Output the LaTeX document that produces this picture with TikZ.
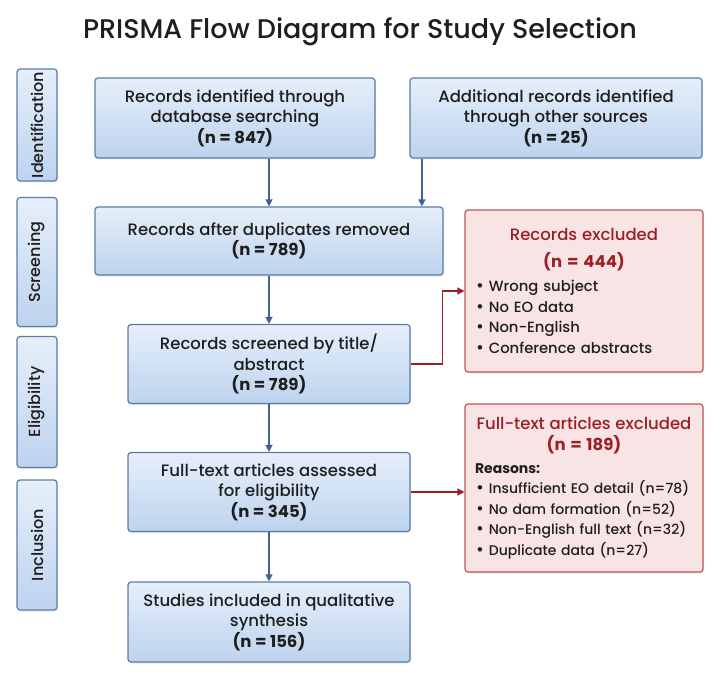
\documentclass[tikz,border=0pt]{standalone}
\usepackage{fontspec}
\setmainfont{Poppins}[UprightFont={* Medium}, BoldFont={* Bold}]
\usepackage{tikz}
\usetikzlibrary{arrows.meta,positioning,shadows,calc}

\definecolor{boxtop}{HTML}{E6EFFA}
\definecolor{boxbot}{HTML}{BDD3EE}
\definecolor{boxline}{HTML}{5A7DA6}
\definecolor{flowblue}{HTML}{41648F}
\definecolor{exfill}{HTML}{F8E4E4}
\definecolor{exline}{HTML}{C05656}
\definecolor{exred}{HTML}{9B1F25}
\definecolor{inktext}{HTML}{1E1E1E}

\tikzset{
  flowbox/.style={draw=boxline, line width=1.2pt, rounded corners=3pt,
    top color=boxtop, bottom color=boxbot, align=center, text=inktext,
    font=\fontsize{16.5}{20.5}\selectfont, inner sep=2pt,
    drop shadow={opacity=0.18, shadow xshift=1pt, shadow yshift=-1.5pt}},
  stagebox/.style={flowbox, rotate=90, minimum height=40pt},
  exbox/.style={draw=exline, line width=1.2pt, rounded corners=3pt,
    fill=exfill, text=inktext, align=left, minimum width=238pt,
    text width=224pt, inner xsep=7pt,
    font=\fontsize{14}{20.5}\selectfont,
    drop shadow={opacity=0.18, shadow xshift=1pt, shadow yshift=-1.5pt}},
  flow/.style={draw=flowblue, line width=1.4pt,
    -{Triangle[length=7pt,width=7pt]}},
  exflow/.style={draw=exred, line width=1.4pt,
    -{Triangle[length=7pt,width=7pt]}}
}
\def\bul{\hspace*{4pt}{\fontsize{17}{10}\selectfont\textbullet}\hspace{5pt}}

\begin{document}
\begin{tikzpicture}[x=1pt, y=-1pt]
\useasboundingbox (0,0) rectangle (725,676);

\node[font=\fontsize{27}{30}\selectfont, text=inktext] (title) at (360,32)
  {PRISMA Flow Diagram for Study Selection};

% stages on the left
\foreach \nm/\y/\h/\lbl in {stIdent/125/112/Identification, stScreen/262/129/Screening,
                            stElig/402/131/Eligibility, stIncl/545/130/Inclusion}
  \node[stagebox, minimum width=\h pt, font=\fontsize{16}{20}\selectfont] (\nm) at (37,\y) {\lbl};

% main flow
\node[flowbox, minimum width=280pt, minimum height=80pt] (dbase) at (235,118)
  {Records identified through\\ database searching\\ \textbf{(n = 847)}};
\node[flowbox, minimum width=292pt, minimum height=80pt] (other) at (556,118)
  {Additional records identified\\ through other sources\\ \textbf{(n = 25)}};
\node[flowbox, minimum width=348pt, minimum height=68pt] (dedup) at (269,241)
  {Records after duplicates removed\\ \textbf{(n = 789)}};
\node[flowbox, minimum width=282pt, minimum height=79pt] (screened) at (269,364)
  {Records screened by title/\\ abstract\\ \textbf{(n = 789)}};
\node[flowbox, minimum width=282pt, minimum height=79pt] (fulltext) at (269,492)
  {Full-text articles assessed\\ for eligibility\\ \textbf{(n = 345)}};
\node[flowbox, minimum width=282pt, minimum height=80pt] (included) at (269,622)
  {Studies included in qualitative\\ synthesis\\ \textbf{(n = 156)}};

% exclusions
\node[exbox, minimum height=162pt, font=\fontsize{14.8}{20.7}\selectfont] (exrec) at (584,291)
  {{\centering\color{exred}\fontsize{16.5}{27}\selectfont Records excluded\\
    \textbf{(n = 444)}\par}
   \vspace{3pt}
   \bul Wrong subject\\
   \bul No EO data\\
   \bul Non-English\\
   \bul Conference abstracts};
\node[exbox, minimum height=168pt] (exfull) at (584,488)
  {{\centering\color{exred}\fontsize{16.5}{21}\selectfont Full-text articles excluded\\
    \textbf{(n = 189)}\par}
   \vspace{2pt}\hspace*{3pt}\textbf{Reasons:}\\
   \bul Insufficient EO detail (n=78)\\
   \bul No dam formation (n=52)\\
   \bul Non-English full text (n=32)\\
   \bul Duplicate data (n=27)};

\draw[flow] (dbase.south -| dedup.north) -- (dedup.north);
\draw[flow] ([xshift=12.5pt]other.south west) -- ([xshift=12.5pt]other.south west |- dedup.north);
\draw[flow] (dedup.south) -- (screened.north);
\draw[flow] (screened.south) -- (fulltext.north);
\draw[flow] (fulltext.south) -- (included.north);

\draw[exflow] (screened.east) -- ++(32,0) |- (exrec.west);
\draw[exflow] (fulltext.east) -- (fulltext.east -| exfull.west);

\end{tikzpicture}
\end{document}
